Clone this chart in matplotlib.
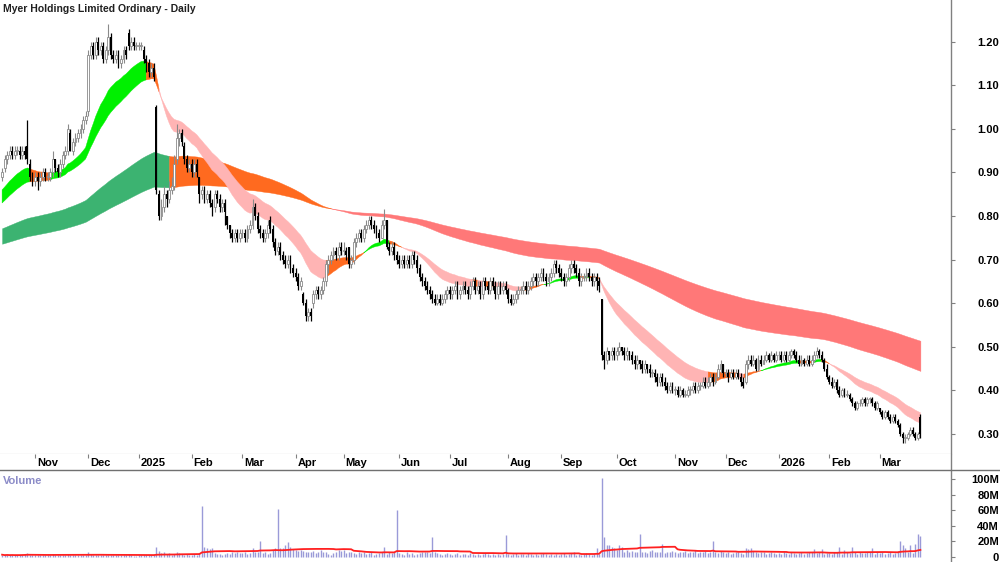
import numpy as np
import pandas as pd
import matplotlib
matplotlib.use("Agg")
import matplotlib.pyplot as plt
from matplotlib.lines import Line2D

plt.rcParams['font.family'] = ['Liberation Sans', 'DejaVu Sans']

title = "Myer Holdings Limited Ordinary - Daily"

# ASX trading days shown on the chart
holidays = ['2024-12-25', '2024-12-26', '2025-01-01', '2025-01-27', '2025-04-18',
            '2025-04-21', '2025-04-25', '2025-06-09', '2025-12-25', '2025-12-26',
            '2026-01-01', '2026-01-26']
dates = pd.bdate_range('2024-10-15', '2026-03-24')
dates = dates[~dates.isin(pd.to_datetime(holidays))]

# daily prices in cents, one row per month (Oct 2024 .. Mar 2026)
closes = [
    90, 93, 94, 95, 94, 95, 95, 94, 95, 94, 93, 89, 88,
    89, 88, 89, 90, 89, 89, 90, 93, 91, 90, 92, 94, 95, 100, 95, 97, 98, 99, 100, 102, 103,
    117, 119, 117, 120, 118, 119, 116, 118, 121, 117, 116, 117, 115, 116, 118, 117, 119, 120, 119, 119,
    119, 119, 116, 115, 113, 114, 112, 86, 80, 82, 85, 84, 86, 87, 92, 98, 99, 97, 93, 91, 92,
    90, 92, 90, 85, 86, 84, 85, 83, 82, 85, 84, 82, 83, 81, 78, 76, 75, 76, 75, 76,
    76, 75, 77, 78, 82, 80, 77, 76, 75, 76, 78, 77, 74, 72, 73, 71, 70, 69, 70, 68, 67,
    66, 64, 65, 60, 57, 58, 57, 62, 63, 62, 63, 65, 69, 70, 71, 72, 71, 73, 72,
    72, 71, 69, 70, 74, 75, 76, 75, 77, 78, 79, 78, 77, 76, 75, 78, 79, 73, 72, 73, 71, 70,
    69, 70, 69, 70, 69, 71, 70, 68, 66, 65, 64, 63, 62, 61, 60, 61, 60, 61, 62, 63,
    62, 63, 64, 62, 63, 64, 63, 62, 64, 65, 63, 64, 62, 65, 64, 63, 65, 64, 62, 64, 63, 64, 63,
    61, 60, 61, 62, 63, 63, 64, 63, 64, 65, 66, 65, 66, 67, 66, 65, 66, 67, 69, 68, 67,
    66, 65, 66, 68, 69, 68, 67, 65, 66, 66, 67, 66, 65, 66, 65, 64, 48, 47, 49, 48, 49, 48,
    49, 50, 49, 48, 49, 48, 47, 46, 47, 46, 45, 46, 45, 44, 44, 43, 42, 43, 42, 41, 40, 41, 40,
    40, 39, 40, 39, 39, 40, 40, 41, 40, 41, 41, 42, 41, 42, 43, 42, 43, 45, 46, 44,
    44, 43, 44, 43, 44, 43, 42, 41, 46, 47, 46, 47, 45, 47, 46, 47, 48, 47, 48, 47, 48,
    48, 47, 48, 47, 48, 49, 48, 47, 46, 47, 46, 47, 46, 47, 48, 49, 48, 47, 45, 43,
    42, 41, 42, 40, 39, 40, 39, 39, 38, 37, 36, 37, 37, 38, 37, 38, 38, 37, 36, 37,
    35, 34, 35, 34, 33, 34, 33, 32, 30, 29, 29, 30, 31, 30, 29, 30, 30,
]
opens = [
    89, 91, 93, 94, 95, 94, 95, 95, 94, 95, 96, 92, 89,
    88, 89, 88, 89, 90, 89, 89, 90, 93, 91, 90, 92, 94, 95, 99, 95, 97, 98, 99, 100, 102,
    104, 117, 119, 117, 120, 118, 119, 116, 118, 121, 117, 116, 117, 115, 116, 118, 122, 119, 120, 119,
    119, 119, 118, 116, 115, 113, 114, 105, 85, 80, 82, 85, 84, 86, 87, 93, 98, 99, 96, 93, 91,
    92, 90, 92, 89, 85, 86, 84, 85, 83, 82, 85, 84, 82, 83, 80, 78, 76, 75, 76, 75,
    76, 76, 75, 77, 78, 82, 80, 77, 76, 75, 76, 79, 77, 74, 72, 73, 71, 70, 69, 70, 68,
    67, 66, 64, 62, 60, 57, 58, 60, 62, 63, 62, 63, 65, 69, 70, 71, 72, 71, 73,
    72, 72, 73, 69, 70, 74, 75, 76, 75, 77, 78, 79, 78, 77, 76, 75, 78, 79, 73, 72, 73, 71,
    70, 69, 70, 69, 70, 69, 71, 70, 68, 66, 65, 64, 63, 62, 61, 60, 61, 60, 61, 62,
    63, 62, 63, 64, 62, 63, 64, 63, 62, 64, 65, 63, 64, 62, 65, 64, 63, 65, 64, 62, 64, 63, 64,
    63, 61, 60, 61, 62, 63, 63, 64, 63, 64, 65, 66, 65, 66, 67, 66, 65, 66, 67, 69, 68,
    67, 66, 65, 66, 68, 69, 68, 67, 65, 66, 66, 67, 66, 65, 66, 65, 61, 48, 47, 49, 48, 49,
    48, 49, 50, 49, 48, 49, 48, 47, 46, 47, 46, 45, 46, 45, 44, 44, 43, 42, 43, 42, 41, 40, 41,
    40, 40, 39, 40, 39, 39, 40, 40, 41, 40, 41, 41, 42, 41, 42, 43, 42, 43, 45, 46,
    44, 44, 43, 44, 43, 44, 43, 42, 42, 46, 47, 46, 47, 45, 47, 46, 47, 48, 47, 48, 47,
    48, 48, 47, 48, 47, 48, 49, 48, 47, 46, 47, 46, 47, 46, 47, 48, 49, 48, 47, 45,
    43, 42, 41, 42, 40, 39, 40, 39, 39, 38, 37, 36, 37, 37, 38, 37, 38, 38, 37, 36,
    36, 35, 34, 35, 34, 33, 34, 33, 32, 30, 29, 29, 30, 31, 30, 29, 34,
]
highs = [
    91, 94, 95, 96, 96, 96, 96, 96, 96, 96, 102, 93, 90,
    90, 90, 90, 91, 91, 90, 91, 95, 93, 92, 93, 95, 96, 101, 100, 98, 99, 100, 101, 103, 104,
    118, 120, 120, 121, 121, 120, 120, 119, 124, 122, 118, 118, 118, 117, 119, 119, 123, 121, 121, 120,
    120, 120, 119, 117, 116, 115, 115, 105.5, 86, 84, 87, 86, 88, 89, 94, 101, 100, 100, 97, 94, 93,
    93, 93, 93, 89, 87, 87, 86, 86, 84, 86, 86, 85, 84, 84, 80, 78, 77, 77, 77, 77,
    77, 77, 78, 79, 84, 83, 81, 78, 77, 77, 79, 80, 78, 75, 74, 74, 72, 71, 71, 71, 69,
    68, 67, 66, 62.5, 61, 59, 59, 63, 64, 64, 64, 66, 70, 71, 72, 73, 73, 74, 74,
    74, 73, 73, 71, 75, 76, 77, 77, 78, 79, 80, 80, 79, 78, 77, 79, 81.5, 79, 74, 74, 74, 72,
    71, 71, 71, 71, 71, 72, 72, 71, 69, 67, 66, 65, 64, 63, 62, 62, 62, 62, 63, 64,
    64, 64, 65, 65, 64, 65, 65, 64, 65, 66, 66, 65, 65, 66, 66, 65, 66, 66, 65, 65, 65, 65, 65,
    63.5, 62, 62, 63, 64, 64, 65, 65, 65, 66, 67, 67, 67, 68, 68, 67, 67, 68, 70, 70, 69,
    68, 67, 67, 69, 70, 70, 69, 68, 67, 67, 68, 68, 67, 67, 67, 66, 61, 49, 50, 49, 50, 50,
    50, 51, 50, 50, 50, 49, 49, 48, 48, 47, 47, 47, 46, 46, 45, 45, 44, 44, 44, 43, 42, 42, 42,
    41, 41, 41, 40.5, 40, 41, 41, 42, 42, 42, 42, 43, 43, 43, 44, 44, 44, 46, 47, 46,
    45, 45, 45, 45, 45, 45, 44, 43, 47, 48, 48, 48, 47.5, 48, 48, 48, 49, 48.5, 49, 48.5, 49,
    49, 49, 49, 49, 49, 49.5, 49.5, 49, 48, 48, 47.5, 48, 48, 48, 49, 50, 49.5, 49, 47.5, 46,
    43.5, 43, 42.5, 42.5, 41, 40.5, 40.5, 40, 39.5, 38.5, 37.5, 37.5, 38, 38.5, 38.5, 38.5, 38.5, 38.5, 37.5, 37.5,
    36, 35.5, 35.5, 35.5, 34.5, 34.5, 34.5, 33.5, 32.5, 30.5, 30, 30.5, 31.5, 31.5, 30.5, 30.5, 34.5,
]
lows = [
    88, 90, 92, 93, 93, 93, 94, 93, 93, 93, 92, 88, 87,
    87, 86, 87, 88, 88, 88, 88, 89, 90, 89, 89, 91, 93, 94, 95, 94, 96, 97, 98, 99, 101,
    103, 116, 116, 116, 117, 117, 115, 115, 117, 116, 115, 115, 114, 114, 115, 116, 118, 118, 118, 118,
    118, 118, 115, 113, 112, 112, 111, 85, 79, 79, 81, 82, 83, 85, 86, 92, 96, 96, 92, 90, 90,
    89, 89, 89, 83, 84, 83, 83, 82, 80, 81, 83, 81, 81, 78, 77, 75, 74, 74, 74, 74,
    75, 74, 74, 76, 77, 79, 76, 75, 74, 74, 75, 76, 73, 71, 71, 70, 69, 68, 68, 67, 66,
    65, 63, 63, 59.5, 56, 56, 56, 59, 61, 61, 61, 62, 64, 67, 69, 70, 70, 70, 71,
    71, 70, 68, 68, 69, 73, 74, 74, 74, 76, 77, 77, 76, 75, 74, 75, 77, 72.5, 71, 71, 70, 69,
    68, 68, 68, 68, 68, 68, 69, 67, 65, 64, 63, 62, 61, 60, 59.5, 59.5, 59.5, 59.5, 60, 61,
    61, 61, 62, 61, 61, 62, 62, 61, 61, 63, 62, 62, 61, 61, 63, 62, 62, 63, 61, 61, 62, 62, 62,
    60, 59.5, 59.5, 60, 61, 62, 62, 62, 62, 63, 64, 64, 64, 65, 65, 64, 64, 65, 66, 67, 66,
    65, 64, 64, 65, 67, 67, 66, 64, 64, 65, 65, 65, 64, 64, 63, 62.5, 47, 45, 46, 47, 47, 47,
    47, 48, 48, 47, 47, 47, 46, 45, 45, 45, 44, 44, 44, 43, 43, 42, 41, 41, 41, 40, 39.5, 39.5, 39.5,
    39, 38.5, 38.5, 38.5, 38.5, 38.5, 39, 39.5, 39.5, 39.5, 40, 40.5, 40.5, 40.5, 41, 41, 41.5, 42.5, 44, 43,
    43, 42, 42.5, 42.5, 42.5, 42.5, 41, 40.5, 41.5, 45, 45.5, 45.5, 44.5, 44.5, 45.5, 46, 46.5, 46.5, 46.5, 46.5, 46.5,
    47, 46.5, 46.5, 46.5, 46.5, 47.5, 47.5, 46.5, 45.5, 45.5, 45.5, 45.5, 45.5, 45.5, 46.5, 47.5, 47.5, 46.5, 44.5, 42.5,
    41.5, 40.5, 40.5, 39.5, 38.5, 38.5, 38.5, 38.5, 37.5, 36.5, 35.5, 35.5, 36.5, 36.5, 36.5, 36.5, 37, 36.5, 35.5, 35.5,
    34.5, 33.5, 33.5, 33.5, 32.5, 32.5, 32.5, 31.5, 29.5, 28, 28, 28.5, 29.5, 29.5, 28.5, 28.5, 29,
]
# daily volume, millions of shares
volumes = [
    3, 2, 3, 2, 3, 2, 3, 2, 3, 4, 5, 3, 2,
    3, 2, 2, 3, 2, 2, 3, 4, 3, 2, 2, 3, 3, 4, 3, 2, 3, 3, 2, 3, 3,
    6, 4, 3, 2, 3, 2, 3, 2, 2, 3, 2, 2, 2, 3, 2, 2, 4, 2, 1, 1,
    2, 2, 3, 2, 2, 3, 3, 13, 8, 5, 6, 4, 5, 3, 4, 6, 5, 4, 3, 4, 3,
    3, 4, 3, 5, 66, 13, 12, 10, 12, 5, 4, 4, 3, 4, 5, 4, 6, 5, 6, 5,
    5, 6, 4, 5, 11, 6, 7, 21, 5, 6, 4, 5, 9, 11, 62, 11, 12, 15, 19, 13, 10,
    9, 8, 9, 8, 6, 7, 6, 8, 5, 6, 9, 7, 6, 4, 3, 5, 7, 9, 8,
    9, 5, 6, 7, 5, 4, 6, 5, 7, 4, 5, 6, 3, 4, 5, 6, 13, 4, 6, 5, 6, 60,
    5, 4, 3, 6, 4, 5, 3, 4, 5, 6, 7, 6, 5, 26, 7, 5, 4, 3, 4, 5,
    4, 3, 4, 5, 3, 4, 4, 3, 5, 4, 3, 4, 3, 4, 5, 4, 3, 4, 3, 4, 3, 4, 28,
    4, 3, 4, 5, 3, 4, 4, 3, 5, 4, 3, 4, 3, 4, 5, 4, 3, 4, 3, 4, 3,
    4, 5, 3, 4, 5, 6, 3, 4, 3, 4, 5, 4, 3, 4, 11, 4, 102, 26, 15, 15, 13, 11,
    9, 15, 13, 7, 9, 6, 8, 7, 6, 30, 6, 7, 5, 8, 9, 7, 7, 6, 17, 5, 7, 6, 8,
    6, 5, 7, 6, 8, 5, 7, 6, 9, 5, 7, 6, 8, 5, 7, 21, 6, 5, 8, 6,
    5, 6, 4, 5, 7, 6, 5, 4, 11, 10, 11, 8, 6, 5, 7, 6, 4, 5, 6, 5, 4,
    5, 4, 6, 5, 4, 6, 5, 4, 5, 6, 4, 5, 6, 7, 10, 5, 6, 10, 4, 5,
    5, 4, 6, 6, 13, 4, 9, 6, 5, 13, 6, 4, 7, 5, 5, 6, 6, 11, 4, 6,
    5, 6, 4, 5, 6, 4, 5, 8, 21, 15, 11, 6, 15, 5, 17, 30, 27,
]

# moving average ribbons: periods, starting values, days used to judge the slope
short_periods = (21, 36)
short_seeds = (0.856, 0.826)
short_slope_days = 3
long_periods = (135, 230)
long_seeds = (0.77, 0.735)
long_slope_days = 10
vol_ma_days = 30

price_ticks = [0.30, 0.40, 0.50, 0.60, 0.70, 0.80, 0.90, 1.00, 1.10, 1.20]
vol_ticks = [0, 20, 40, 60, 80, 100]

for name, arr in [('closes', closes), ('opens', opens), ('highs', highs),
                  ('lows', lows), ('volumes', volumes)]:
    if len(arr) != len(dates):
        raise ValueError(f"{name}: {len(arr)} vs {len(dates)}")

o = np.array(opens) / 100.0
h = np.array(highs) / 100.0
l = np.array(lows) / 100.0
c = np.array(closes) / 100.0
v = np.array(volumes) * 1e6
x = np.arange(len(dates))


def ema(vals, period, seed):
    a = 2.0 / (period + 1)
    out = []
    prev = seed
    for val in vals:
        prev = prev + a * (val - prev)
        out.append(prev)
    return np.array(out)


def ribbon(ax, fast, slow, k, colors, z):
    lo = np.minimum(fast, slow)
    hi = np.maximum(fast, slow)
    before = np.r_[np.full(k, fast[0]), fast[:-k]]
    rising = fast >= before
    state = np.where((fast > slow) & rising, 0, np.where((fast < slow) & ~rising, 2, 1))
    for n, col in enumerate(colors):
        m = state == n
        m_ext = m | np.r_[m[1:], False]
        ax.fill_between(x, lo, hi, where=m_ext, color=col, lw=0.3, zorder=z)


fig = plt.figure(figsize=(10, 5.62), dpi=100)
fig.patch.set_facecolor('white')
right = 0.951
xl = (-0.83, 375.1)

# price panel
ax = fig.add_axes([0, 1 - 454 / 562, right, 454 / 562])
ax.set_xlim(*xl)
ax.set_ylim(0.254, 1.2956)

ribbon(ax, ema(c, long_periods[0], long_seeds[0]), ema(c, long_periods[1], long_seeds[1]),
       long_slope_days, ['#3cb371', '#ff6a1f', '#ff7878'], 1)
ribbon(ax, ema(c, short_periods[0], short_seeds[0]), ema(c, short_periods[1], short_seeds[1]),
       short_slope_days, ['#00f000', '#ff6a1f', '#ffb4b4'], 2)

up = c >= o
ax.vlines(x[up], l[up], h[up], color='#8a8a8a', lw=0.8, zorder=3)
ax.vlines(x[~up], l[~up], h[~up], color='black', lw=0.9, zorder=3)
body_lo = np.minimum(o, c)
body_h = np.maximum(np.abs(c - o), 0.002)
ax.bar(x[up], body_h[up], bottom=body_lo[up], width=0.75, facecolor='white',
       edgecolor='#8a8a8a', lw=0.6, zorder=4)
ax.bar(x[~up], body_h[~up], bottom=body_lo[~up], width=0.75, color='black', lw=0, zorder=4)

for s in ['top', 'left', 'right']:
    ax.spines[s].set_visible(False)
ax.spines['bottom'].set_color('#a0a0a0')
ax.set_xticks([])
ax.yaxis.tick_right()
ax.set_yticks(price_ticks)
ax.set_yticklabels([f"{t:.2f}" for t in price_ticks], fontsize=8, fontweight='bold')
ax.tick_params(axis='y', direction='out', length=3, color='#808080', pad=31.5)
for lab in ax.get_yticklabels():
    lab.set_horizontalalignment('right')
ax.text(0.003, 0.992, title, transform=ax.transAxes, ha='left', va='top',
        fontsize=7.5, fontweight='bold', color='#202020')

# date strip
ax_d = fig.add_axes([0, 1 - 470 / 562, right, 16 / 562])
ax_d.set_xlim(*xl)
ax_d.set_ylim(0, 1)
ax_d.set_yticks([])
for s in ['left', 'right', 'bottom', 'top']:
    ax_d.spines[s].set_visible(False)
month_idx = [i for i in range(1, len(dates)) if dates[i].month != dates[i - 1].month]
ax_d.set_xticks(month_idx)
ax_d.set_xticklabels([])
ax_d.tick_params(axis='x', direction='in', top=True, bottom=False, length=3, color='#808080')
for i in month_idx:
    d = dates[i]
    lab = str(d.year) if d.month == 1 else d.strftime('%b')
    ax_d.text(i + 0.7, 0.45, lab, ha='left', va='center', fontsize=8, fontweight='bold')

# volume panel
ax_v = fig.add_axes([0, 0, right, 92 / 562])
ax_v.set_xlim(*xl)
ax_v.set_ylim(-6.4e6, 112e6)
ax_v.vlines(x, 0, v, color='#9a9ad8', lw=1.0)
vol_ma = pd.Series(v).rolling(vol_ma_days, min_periods=1).mean()
ax_v.plot(x, vol_ma, color='#ff2020', lw=1.3)
for s in ['top', 'left', 'right', 'bottom']:
    ax_v.spines[s].set_visible(False)
ax_v.set_xticks([])
ax_v.yaxis.tick_right()
ax_v.set_yticks([t * 1e6 for t in vol_ticks])
ax_v.set_yticklabels([f"{t}M" if t else "0" for t in vol_ticks], fontsize=8, fontweight='bold')
ax_v.tick_params(axis='y', direction='out', length=3, color='#808080', pad=31.5)
for lab in ax_v.get_yticklabels():
    lab.set_horizontalalignment('right')
ax_v.text(0.003, 0.93, "Volume", transform=ax_v.transAxes, ha='left', va='top',
          fontsize=8, fontweight='bold', color='#8c8cc8')

# frame lines
fig.add_artist(Line2D([right, right], [0, 1], color='#808080', lw=1))
fig.add_artist(Line2D([0, 1], [1 - 470 / 562, 1 - 470 / 562], color='#707070', lw=1))

fig.savefig('out.png', dpi=100, facecolor='white')
